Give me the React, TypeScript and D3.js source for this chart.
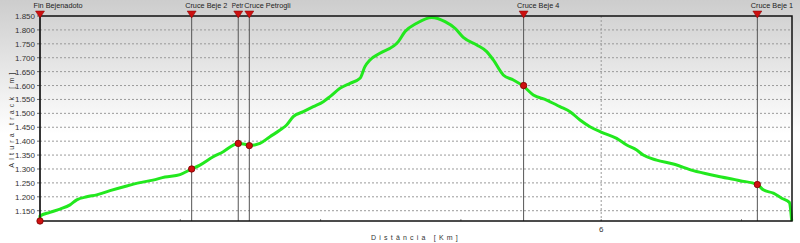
import React from "react";
import * as d3 from "d3";

// Profile data (distance in km, altitude in m)
const distanceKm = [
  2.0, 2.0, 2.071, 2.143, 2.214, 2.262, 2.333, 2.404, 2.499, 2.618, 2.713, 2.805, 2.891, 2.998,
  3.081, 3.14, 3.235, 3.306, 3.378, 3.413, 3.461, 3.492, 3.568, 3.639, 3.711, 3.758, 3.805,
  3.877, 3.948, 4.019, 4.067, 4.138, 4.21, 4.281, 4.316, 4.352, 4.423, 4.554, 4.602, 4.685,
  4.792, 4.887, 4.958, 5.017, 5.113, 5.184, 5.231, 5.302, 5.374, 5.445, 5.516, 5.611, 5.706,
  5.778, 5.849, 5.92, 6.004, 6.11, 6.182, 6.253, 6.3, 6.395, 6.514, 6.656, 6.823, 6.989, 7.113,
  7.155, 7.227, 7.286, 7.341, 7.358,
];
const altitudeM = [
  1113, 1131, 1144, 1156, 1171, 1189, 1200, 1207, 1222, 1239, 1251, 1260, 1271, 1280,
  1300, 1314, 1344, 1362, 1386, 1392, 1389, 1384, 1392, 1416, 1440, 1458, 1488,
  1506, 1524, 1542, 1560, 1590, 1608, 1626, 1668, 1692, 1716, 1758, 1794, 1824,
  1845, 1830, 1806, 1773, 1746, 1722, 1692, 1638, 1620, 1598, 1566, 1548, 1524,
  1506, 1476, 1452, 1432, 1410, 1386, 1368, 1350, 1332, 1318, 1294, 1275, 1258, 1244,
  1225, 1213, 1195, 1180, 1113,
];

// Waypoints
const markerNames = ["Fin Bejenadoto", "Cruce Beje 2", "Petr", "Cruce Petrogli", "Cruce Beje 4", "Cruce Beje 1"];
const markerKm = [2.0, 3.081, 3.413, 3.492, 5.447, 7.113];
const markerAlt = [1113, 1300, 1392, 1384, 1600, 1244];

const yTicks = [1150, 1200, 1250, 1300, 1350, 1400, 1450, 1500, 1550, 1600, 1650, 1700, 1750, 1800, 1850];
const xMinorTicks = [3, 4, 5, 7];
const xMajorTicks = [6];

const xTitle = "Distância [Km]";
const yTitle = "Altura track [m]";

export default function App() {
  const W = 800, H = 243;
  const left = 40, right = 792, top = 16, bottom = 221;
  const x = d3.scaleLinear().domain([2.0, 7.36]).range([left, right]);
  const y = d3.scaleLinear().domain([1113, 1850]).range([bottom, top]);

  const pts = distanceKm.map((d, i) => [d, altitudeM[i]] as [number, number]);
  const line = d3.line<[number, number]>()
    .x(d => x(d[0]))
    .y(d => y(d[1]))
    .curve(d3.curveMonotoneX);

  const fmt = (v: number) => {
    const s = String(v);
    return s.length > 3 ? s.slice(0, s.length - 3) + "." + s.slice(s.length - 3) : s;
  };
  const font = "'Liberation Sans', Arial, sans-serif";

  return (
    <svg width={W} height={H} style={{ position: "absolute", left: 0, top: 0 }} fontFamily={font}>
      <defs>
        <linearGradient id="bg" x1="0" y1="0" x2="0" y2="1">
          <stop offset="0" stopColor="#cdcdcd" />
          <stop offset="0.55" stopColor="#ffffff" />
          <stop offset="1" stopColor="#ffffff" />
        </linearGradient>
      </defs>
      <rect x={0} y={0} width={W} height={H} fill="url(#bg)" />

      {/* grid */}
      {yTicks.filter(t => t < 1850).map(t => (
        <line key={"g" + t} x1={left} x2={right} y1={y(t)} y2={y(t)} stroke="#9a9a9a" strokeWidth={1} strokeDasharray="2,2" />
      ))}
      {xMajorTicks.map(t => (
        <line key={"gx" + t} x1={x(t)} x2={x(t)} y1={top} y2={bottom} stroke="#9a9a9a" strokeWidth={1} strokeDasharray="2,2" />
      ))}

      {/* y tick labels */}
      {yTicks.map(t => (
        <g key={"yt" + t}>
          <text x={35} y={y(t) + 3} textAnchor="end" fontSize={8} fill="#333">{fmt(t)}</text>
          <line x1={left - 3} x2={left} y1={y(t)} y2={y(t)} stroke="#444" strokeWidth={0.8} />
        </g>
      ))}

      {/* x ticks */}
      {xMinorTicks.concat(xMajorTicks).map(t => (
        <line key={"xt" + t} x1={x(t)} x2={x(t)} y1={bottom - 2} y2={bottom} stroke="#888" strokeWidth={1} />
      ))}
      {xMajorTicks.map(t => (
        <text key={"xl" + t} x={x(t)} y={bottom + 11} textAnchor="middle" fontSize={8} fill="#333">{t}</text>
      ))}

      {/* marker vertical lines */}
      {markerKm.map((k, i) => (
        <line key={"ml" + i} x1={x(k)} x2={x(k)} y1={top} y2={bottom} stroke="#555" strokeWidth={1} />
      ))}

      {/* profile */}
      <path d={line(pts) || ""} fill="none" stroke="#22e81e" strokeWidth={3} strokeLinejoin="round" />

      {/* frame */}
      <rect x={left} y={top} width={right - left} height={bottom - top} fill="none" stroke="#111" strokeWidth={1.5} />

      {/* marker dots */}
      {markerKm.map((k, i) => (
        <circle key={"md" + i} cx={x(k)} cy={y(markerAlt[i])} r={3.2} fill="#d01010" stroke="#7a0000" strokeWidth={0.8} />
      ))}

      {/* marker triangles & labels */}
      {markerKm.map((k, i) => {
        const cx = x(k);
        const isPetr = markerNames[i] === "Petr";
        const isNextToPetr = i > 0 && markerNames[i - 1] === "Petr";
        return (
          <g key={"mt" + i}>
            <path d={`M${cx - 4.5},${top - 5} L${cx + 4.5},${top - 5} L${cx},${top + 2} Z`} fill="#cc1010" stroke="#800" strokeWidth={0.5} />
            <text
              x={cx - (isNextToPetr ? 5 : 6.5)}
              y={8}
              fontSize={isPetr ? 6.3 : 7.3}
              fill="#222"
            >
              {markerNames[i]}
            </text>
          </g>
        );
      })}

      {/* axis titles */}
      <text x={(left + right) / 2} y={240} textAnchor="middle" fontSize={7} letterSpacing={3.2} fill="#333">{xTitle}</text>
      <text transform={`translate(14,${(top + bottom) / 2}) rotate(-90)`} textAnchor="middle" fontSize={7} letterSpacing={3.2} fill="#333">{yTitle}</text>
    </svg>
  );
}
